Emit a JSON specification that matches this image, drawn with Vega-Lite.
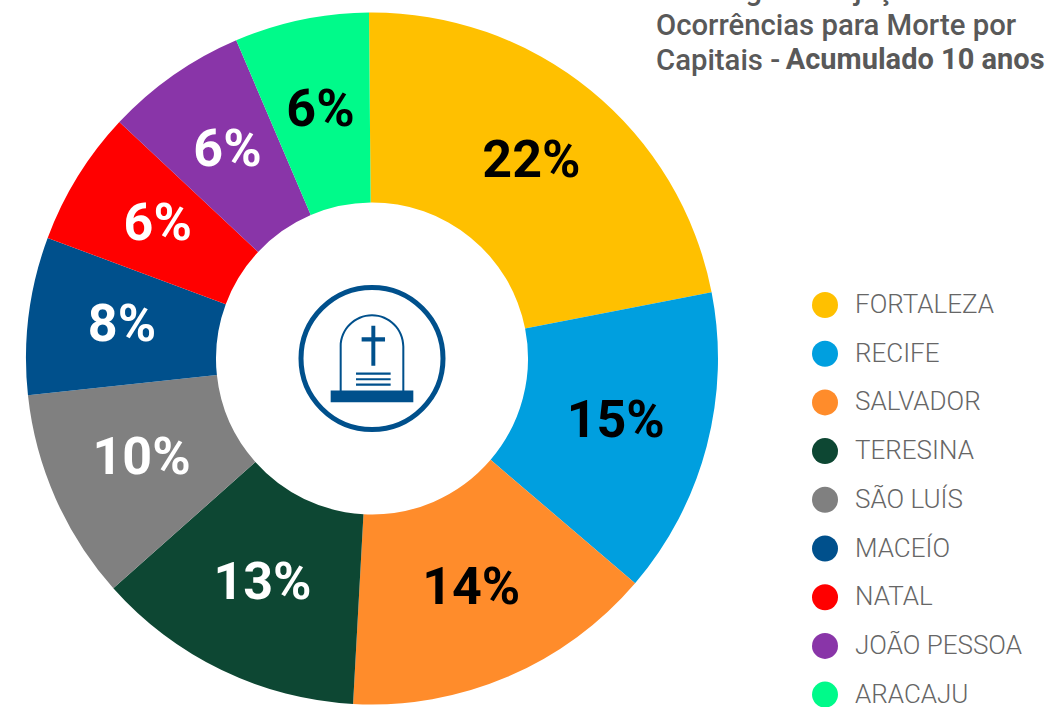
{
"$schema":"https://vega.github.io/schema/vega-lite/v6.json",
"width":744,"height":697,
"autosize":{"type":"none"},
"padding":{"left":0,"top":10,"right":306,"bottom":0},
"background":"white",
"title":{
 "text":["Ranking de Projeção de","Ocorrências para Morte por","Capitais - "],
 "subtitle":"\u200b\u00a0\u00a0\u00a0\u00a0\u00a0\u00a0\u00a0\u00a0\u00a0\u00a0\u00a0\u00a0\u00a0\u00a0\u00a0\u00a0\u00a0\u00a0Acumulado 10 anos",
 "anchor":"start","frame":"group","orient":"top","align":"left","baseline":"alphabetic",
 "dx":656,"dy":89,"offset":0,
 "font":"Roboto","fontSize":29.3,"fontWeight":500,"color":"#595959","lineHeight":35,
 "subtitleFont":"Roboto","subtitleFontSize":29,"subtitleFontWeight":700,"subtitleColor":"#595959","subtitlePadding":-30
},
"data":{"values":[
 {"city":"FORTALEZA","ord":1,"share":22.07,"label":"22%"},
 {"city":"RECIFE","ord":2,"share":14.32,"label":"15%"},
 {"city":"SALVADOR","ord":3,"share":14.62,"label":"14%"},
 {"city":"TERESINA","ord":4,"share":12.57,"label":"13%"},
 {"city":"SÃO LUÍS","ord":5,"share":9.86,"label":"10%"},
 {"city":"MACEÍO","ord":6,"share":7.36,"label":"8%"},
 {"city":"NATAL","ord":7,"share":6.31,"label":"6%"},
 {"city":"JOÃO PESSOA","ord":8,"share":6.61,"label":"6%"},
 {"city":"ARACAJU","ord":9,"share":6.28,"label":"6%"}
]},
"encoding":{
 "theta":{"field":"share","type":"quantitative","stack":true,"scale":{"range":[-0.0087,6.2745]}},
 "order":{"field":"ord","type":"ordinal"}
},
"layer":[
 {"mark":{"type":"arc","innerRadius":156,"outerRadius":346},
  "encoding":{"color":{"field":"city","type":"nominal","sort":null,
    "scale":{"domain":["FORTALEZA","RECIFE","SALVADOR","TERESINA","SÃO LUÍS","MACEÍO","NATAL","JOÃO PESSOA","ARACAJU"],
             "range":["#FFC000","#009FDF","#FF8C2B","#0D4733","#808080","#00508C","#FF0000","#8935A8","#00FA8A"]},
    "legend":{"orient":"none","legendX":812,"legendY":282,"title":null,"symbolType":"circle","symbolSize":676,"symbolStrokeWidth":0,
      "labelFont":"Roboto","labelFontWeight":300,"labelFontSize":26,"labelColor":"#666666","labelOffset":17,"rowPadding":22.7,"labelLimit":220}}}},
 {"mark":{"type":"text","radius":252,"font":"Roboto","fontWeight":700,"fontSize":52,"dy":-2},
  "encoding":{"text":{"field":"label","type":"nominal"},
    "color":{"condition":{"test":"datum.ord<=3||datum.ord==9","value":"#000000"},"value":"#FFFFFF"}}},
 {"data":{"values":[{"part":"ring"}]},
  "mark":{"type":"point","shape":"circle","size":20164,"filled":false,"stroke":"#00508C","strokeWidth":5,"opacity":1},
  "encoding":{"theta":null,"order":null}},
 {"data":{"values":[{"part":"tombstone"}]},
  "mark":{"type":"point","filled":true,"fill":"#00508C","stroke":null,"opacity":1,"size":20736,
   "shape":"M-0.574 0.444L0.574 0.444L0.574 0.606L-0.574 0.606ZM-0.449 0.444L-0.449 -0.167A0.449 0.449 0 0 1 0.449 -0.167L0.449 0.444ZM-0.421 0.444L0.421 0.444L0.421 -0.167A0.421 0.421 0 0 0 -0.421 -0.167ZM-0.009 -0.454L0.046 -0.454L0.046 0.102L-0.009 0.102ZM-0.144 -0.296L0.181 -0.296L0.181 -0.236L-0.144 -0.236ZM-0.222 0.194L0.259 0.194L0.259 0.227L-0.222 0.227ZM-0.222 0.273L0.259 0.273L0.259 0.301L-0.222 0.301ZM-0.222 0.347L0.259 0.347L0.259 0.380L-0.222 0.380Z"},
  "encoding":{"theta":null,"order":null}}
]
}
